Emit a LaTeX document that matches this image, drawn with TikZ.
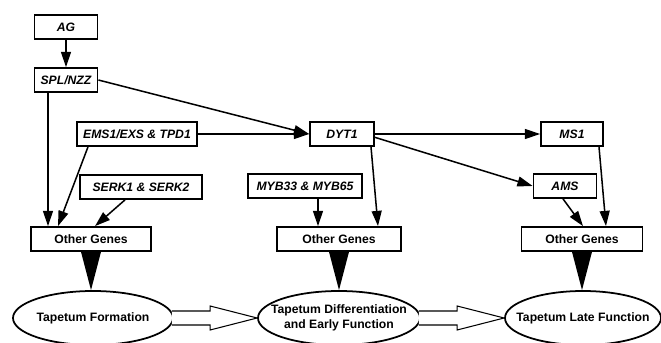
\documentclass[tikz,border=0pt]{standalone}
\usepackage{fontspec}
\setmainfont{Liberation Sans}
\usepackage{tikz}
\usetikzlibrary{shapes.geometric,arrows.meta,calc}

\begin{document}
\begin{tikzpicture}[x=0.03cm, y=-0.03cm,
	every node/.style={font=\fontsize{10.4}{12.5}\selectfont\bfseries},
	gene/.style={rectangle, draw, line width=1.5pt, minimum height=0.72cm, inner sep=2pt, font=\fontsize{10.4}{12.5}\selectfont\bfseries\itshape},
	genes/.style={rectangle, draw, line width=1.5pt, minimum height=0.72cm, inner sep=2pt},
	stage/.style={ellipse, draw, line width=1.5pt, minimum height=1.62cm, inner sep=0pt},
	link/.style={line width=1.3pt, -{Triangle[length=13pt, width=8.5pt]}},
	hollow/.style={line width=0.9pt, fill=white, line join=miter}]
	\useasboundingbox (0,0) rectangle (661,343);

	% Nodes
	\node[gene, minimum width=1.89cm] (ag) at (66,27) {AG};
	\node[gene, minimum width=1.89cm] (spl) at (66,80) {SPL/NZZ};
	\node[gene, minimum width=3.6cm] (ems) at (137,134) {EMS1/EXS \& TPD1};
	\node[gene, minimum width=1.92cm] (dyt) at (342,134) {DYT1};
	\node[gene, minimum width=1.86cm] (ms) at (572,134) {MS1};
	\node[gene, minimum width=1.89cm] (ams) at (565,186) {AMS};
	\node[gene, minimum width=3.66cm] (serk) at (141,187) {SERK1 \& SERK2};
	\node[gene, minimum width=3.42cm] (myb) at (305,186) {MYB33 \& MYB65};

	\node[genes, minimum width=3.6cm] (ogl) at (91,239) {Other Genes};
	\node[genes, minimum width=3.72cm] (ogm) at (339,239) {Other Genes};
	\node[genes, minimum width=3.63cm] (ogr) at (582,239) {Other Genes};

	\node[stage, minimum width=4.8cm, label={[align=center]center:Tapetum Formation}] (tf) at (93,318) {};
	\node[stage, minimum width=4.86cm, label={[align=center]center:Tapetum Differentiation\\and Early Function}] (tdef) at (339,318) {};
	\node[stage, minimum width=4.68cm, label={[align=center]center:Tapetum Late Function}] (tlf) at (583,318) {};

	% Links
	\draw[link] (ag) -- (spl);
	\draw[link] (spl.east) -- (dyt.west);
	\draw[link] (ems) -- (dyt);
	\draw[link] ([xshift=-0.54cm]spl.south) -- ([xshift=-1.29cm]ogl.north);
	\draw[link] ([xshift=-1.47cm]ems.south) -- ([xshift=-0.99cm]ogl.north);
	\draw[link] ([xshift=-0.48cm]serk.south) -- ([xshift=0.12cm]ogl.north);
	\draw[link] (dyt) -- (ms);
	\draw[link] ([yshift=-0.1cm]dyt.east) -- (ams.west);
	\draw[link] ([xshift=0.87cm]dyt.south) -- ([xshift=1.17cm]ogm.north);
	\draw[link] ([xshift=0.39cm]myb.south) -- ([xshift=-0.63cm]ogm.north);
	\draw[link] ([xshift=0.81cm]ms.south) -- ([xshift=0.72cm]ogr.north);
	\draw[link] ([xshift=-0.06cm]ams.south) -- ([xshift=0.03cm]ogr.north);

	% Genes to stages
	\foreach \g/\s in {ogl/tf, ogm/tdef, ogr/tlf}
		\fill ([xshift=-0.3cm]\g.south) -- ([xshift=0.3cm]\g.south) -- (\g.south |- \s.north) -- cycle;

	% Stage to stage
	\foreach \a/\b in {tf/tdef, tdef/tlf}
		\draw[hollow] ($(\a.east)+(-2,-7)$) -- ($(\b.west)+(-47,-7)$) -- ++(0,-5) -- (\b.west)
			-- ++(-47,12) -- ++(0,-5) -- ($(\a.east)+(-2,7)$);
\end{tikzpicture}
\end{document}
